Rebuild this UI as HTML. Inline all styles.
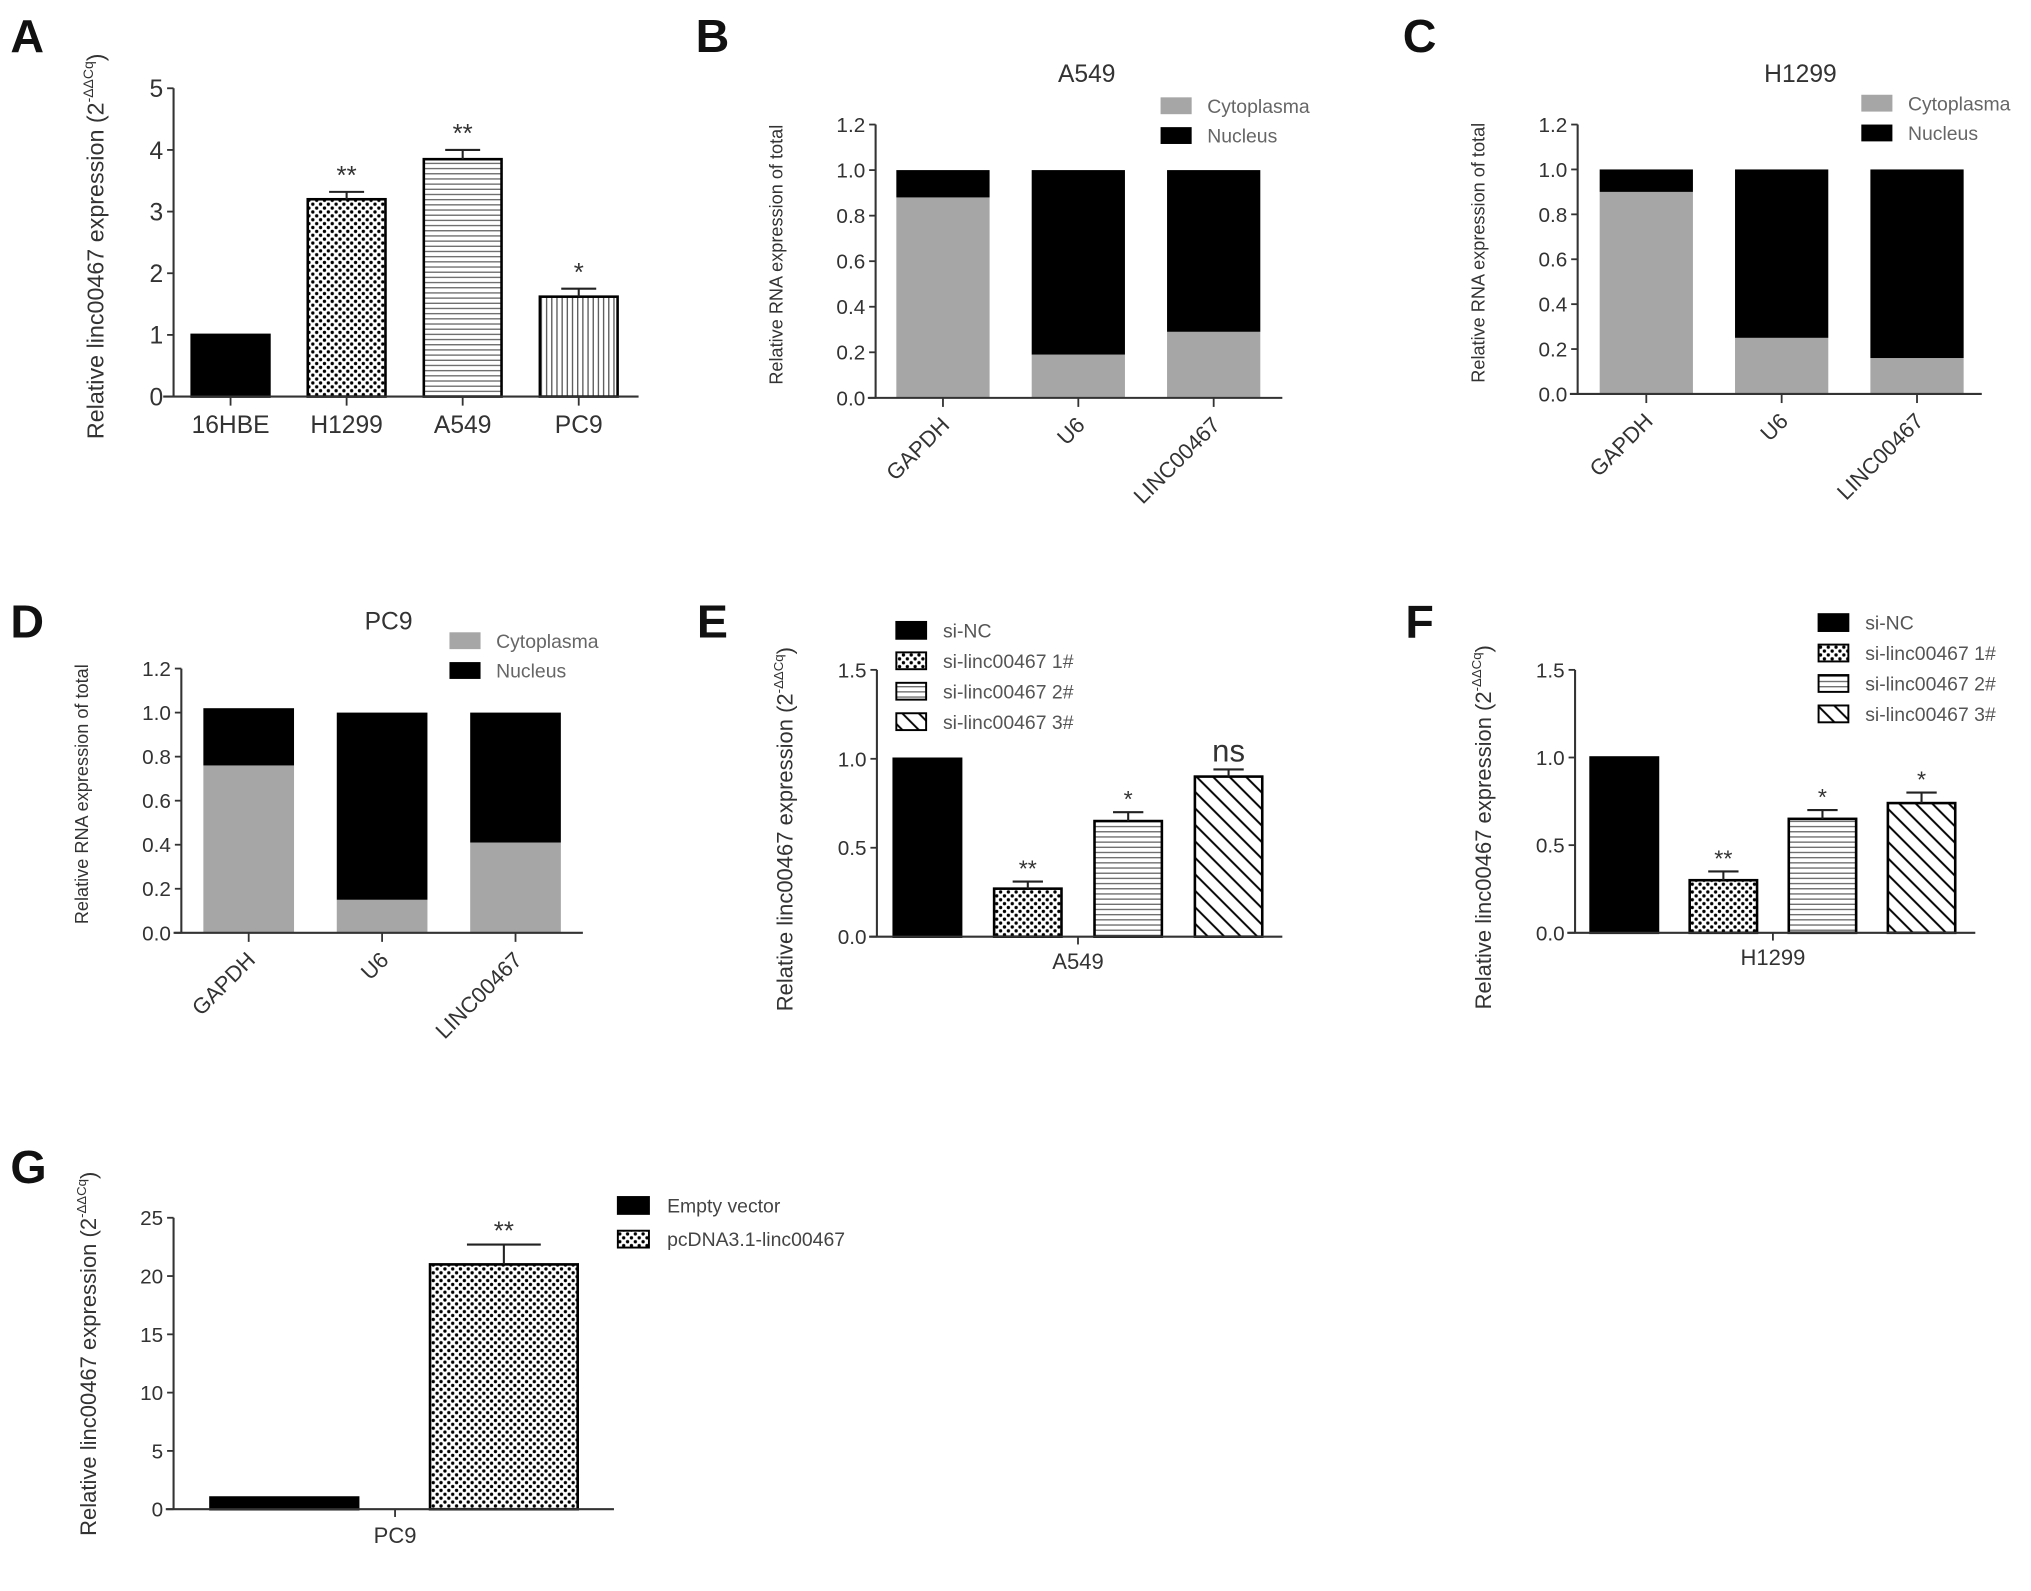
<!DOCTYPE html>
<html><head><meta charset="utf-8">
<style>
html,body{margin:0;padding:0;background:#fff;}
svg{display:block;font-family:"Liberation Sans",Arial,sans-serif;}
</style></head>
<body>
<svg id="fig" width="2031" height="1591" viewBox="0 0 1568 1228" xmlns="http://www.w3.org/2000/svg">
<defs>
<pattern id="pDots" width="6" height="6" patternUnits="userSpaceOnUse"><rect width="6" height="6" fill="#fff"/><circle cx="1.5" cy="1.5" r="1.3" fill="#000"/><circle cx="4.5" cy="4.5" r="1.3" fill="#000"/></pattern>
<pattern id="pH" width="6" height="4" patternUnits="userSpaceOnUse"><rect width="6" height="4" fill="#fff"/><rect y="1.5" width="6" height="1" fill="#666"/></pattern>
<pattern id="pV" width="4" height="6" patternUnits="userSpaceOnUse"><rect width="4" height="6" fill="#fff"/><rect x="1.5" width="1" height="6" fill="#555"/></pattern>
<pattern id="pD" width="9" height="9" patternUnits="userSpaceOnUse" patternTransform="rotate(-45)"><rect width="9" height="9" fill="#fff"/><rect x="3.5" width="1.5" height="9" fill="#000"/></pattern>
</defs>
<g id="root"></g>
</svg>
<script>
// Panel A
const aCats = ["16HBE","H1299","A549","PC9"];
const aVals = [1.0, 3.2, 3.85, 1.62];
const aErr = [0, 0.12, 0.15, 0.13];
const aSig = ["", "**", "**", "*"];
const aTicks = [0,1,2,3,4,5];
// Panels B, C, D (stacked)
const fracCats = ["GAPDH","U6","LINC00467"];
const bCyto = [0.88, 0.19, 0.29];
const bTotal = [1.0, 1.0, 1.0];
const cCyto = [0.90, 0.25, 0.16];
const cTotal = [1.0, 1.0, 1.0];
const dCyto = [0.76, 0.15, 0.41];
const dTotal = [1.02, 1.0, 1.0];
const fracTicks = ["0.0","0.2","0.4","0.6","0.8","1.0","1.2"];
// Panels E, F
const siGroups = ["si-NC","si-linc00467 1#","si-linc00467 2#","si-linc00467 3#"];
const eVals = [1.0, 0.27, 0.65, 0.90];
const eErr = [0, 0.04, 0.05, 0.04];
const eSig = ["", "**", "*", "ns"];
const fVals = [1.0, 0.30, 0.65, 0.74];
const fErr = [0, 0.05, 0.05, 0.06];
const fSig = ["", "**", "*", "*"];
const siTicks = ["0.0","0.5","1.0","1.5"];
// Panel G
const gGroups = ["Empty vector","pcDNA3.1-linc00467"];
const gVals = [1.0, 21.0];
const gErr = [0, 1.7];
const gSig = ["", "**"];
const gTicks = [0,5,10,15,20,25];

const NS="http://www.w3.org/2000/svg";
const root=document.getElementById('root');
function mk(tag,attrs,parent){const e=document.createElementNS(NS,tag);for(const k in attrs)e.setAttribute(k,attrs[k]);(parent||root).appendChild(e);return e;}
function txt(s,attrs,parent){const t=mk('text',attrs,parent);t.textContent=s;return t;}

function yLabel(g,x,y,size,plain){
  const t=mk('text',{x:0,y:0,'font-size':size,'text-anchor':'middle',fill:'#333',transform:`translate(${x},${y}) rotate(-90)`},g);
  
  
  if(plain){t.textContent=plain;return t;}
  const a=document.createElementNS(NS,'tspan');a.textContent='Relative linc00467 expression (2';t.appendChild(a);
  const b=document.createElementNS(NS,'tspan');b.textContent='-ΔΔCq';b.setAttribute('font-size',size*0.6);b.setAttribute('dy',-size*0.45);t.appendChild(b);
  const c=document.createElementNS(NS,'tspan');c.textContent=')';c.setAttribute('dy',size*0.45);t.appendChild(c);
  return t;
}
function panelLetter(s,x,y){const t=txt(s,{x:x,y:y,'font-size':36,'font-weight':'bold',fill:'#111'});
  
  }

function yAxis(g,ax,y0,yTop,ticks,max,fs){
  const sc=v=>y0-(v/max)*(y0-yTop);
  const l=mk('line',{x1:ax,y1:y0,x2:ax,y2:yTop,stroke:'#333','stroke-width':1.6},g);
  
  
  ticks.forEach(tv=>{const v=parseFloat(tv);const y=sc(v);
    mk('line',{x1:ax-5,y1:y,x2:ax,y2:y,stroke:'#333','stroke-width':1.4},g);
    const t=txt(String(tv),{x:ax-8,y:y+fs*0.36,'font-size':fs,'text-anchor':'end',fill:'#333'},g);
    
    
  });
  return sc;
}

function errBar(g,cx,w,yv,ye){
  mk('line',{x1:cx,y1:yv,x2:cx,y2:ye,stroke:'#222','stroke-width':1.6},g);
  mk('line',{x1:cx-w/2,y1:ye,x2:cx+w/2,y2:ye,stroke:'#222','stroke-width':1.6},g);
}

// ---------- Panel A ----------
(function(){
  const g=mk('g',{});
  
  
  panelLetter('A',8,40);
  const ax=134,y0=306,yTop=68,xEnd=493;
  const sc=yAxis(g,ax,y0,yTop,aTicks,5,19);
  yLabel(g,80,190,18);
  const fills=['#000','url(#pDots)','url(#pH)','url(#pV)'];
  const step=89.6,first=178,bw=60;
  aCats.forEach((c,i)=>{
    const cx=first+i*step;const yv=sc(aVals[i]);
    const r=mk('rect',{x:cx-bw/2,y:yv,width:bw,height:y0-yv,fill:fills[i],stroke:'#000','stroke-width':2},g);
    
    
    if(aErr[i]>0){const ye=sc(aVals[i]+aErr[i]);errBar(g,cx,bw*0.45,yv,ye);
      const s=txt(aSig[i],{x:cx,y:ye-6,'font-size':20,'text-anchor':'middle',fill:'#333'},g);
      
      }
    mk('line',{x1:cx,y1:y0,x2:cx,y2:y0+7,stroke:'#333','stroke-width':1.4},g);
    const t=txt(c,{x:cx,y:y0+28,'font-size':19,'text-anchor':'middle',fill:'#333'},g);
    
    
  });
  const xa=mk('line',{x1:ax-8,y1:y0,x2:xEnd,y2:y0,stroke:'#333','stroke-width':1.6},g);
  
  
})();

// ---------- Stacked panels ----------
function stacked(letter,lx,ly,title,cyto,total,o){
  const g=mk('g',{});
  
  
  panelLetter(letter,lx,ly);
  const sc=yAxis(g,o.ax,o.y0,o.yTop,fracTicks,1.2,16);
  yLabel(g,o.ax-72,(o.y0+o.yTop)/2-5,14,'Relative RNA expression of total');
  const tt=txt(title,{x:o.titleX,y:o.titleY,'font-size':19,'text-anchor':'middle',fill:'#333'},g);
  
  
  fracCats.forEach((c,i)=>{
    const cx=o.first+i*o.step;
    const yc=sc(cyto[i]),yt=sc(total[i]);
    const r1=mk('rect',{x:cx-o.bw/2,y:yc,width:o.bw,height:o.y0-yc,fill:'#a6a6a6'},g);
    
    
    const r2=mk('rect',{x:cx-o.bw/2,y:yt,width:o.bw,height:yc-yt,fill:'#000'},g);
    
    
    mk('line',{x1:cx,y1:o.y0,x2:cx,y2:o.y0+7,stroke:'#333','stroke-width':1.4},g);
    const t=txt(c,{x:0,y:0,'font-size':17,'text-anchor':'end',fill:'#333',transform:`translate(${cx+6},${o.y0+22}) rotate(-45)`},g);
    
    
  });
  const xa=mk('line',{x1:o.ax-6,y1:o.y0,x2:o.xEnd,y2:o.y0,stroke:'#333','stroke-width':1.6},g);
  
  
  [['Cytoplasma','#a6a6a6'],['Nucleus','#000']].forEach((L,i)=>{
    const y=o.legY+i*23;
    const s=mk('rect',{x:o.legX,y:y,width:24,height:13,fill:L[1]},g);
    
    
    const t=txt(L[0],{x:o.legX+36,y:y+12,'font-size':15,fill:'#666'},g);
    
    
  });
}
stacked('B',537,40,'A549',bCyto,bTotal,{ax:676,y0:307,yTop:96,xEnd:990,first:728,step:104.5,bw:72,titleX:839,titleY:63,legX:896,legY:75});
stacked('C',1083,40,'H1299',cCyto,cTotal,{ax:1218,y0:304,yTop:96,xEnd:1530,first:1271,step:104.5,bw:72,titleX:1390,titleY:63,legX:1437,legY:73});
stacked('D',8,492,'PC9',dCyto,dTotal,{ax:140,y0:720,yTop:516,xEnd:450,first:192,step:103,bw:70,titleX:300,titleY:486,legX:347,legY:488});

// ---------- Grouped si panels ----------
function siPanel(letter,lx,ly,label,vals,errs,sig,o){
  const g=mk('g',{});
  
  
  panelLetter(letter,lx,ly);
  const sc=yAxis(g,o.ax,o.y0,o.yTop,siTicks,1.5,16);
  yLabel(g,o.ax-65,(o.y0+o.yTop)/2+20,17);
  const fills=['#000','url(#pDots)','url(#pH)','url(#pD)'];
  vals.forEach((v,i)=>{
    const cx=o.first+i*o.step;const yv=sc(v);
    const r=mk('rect',{x:cx-o.bw/2,y:yv,width:o.bw,height:o.y0-yv,fill:fills[i],stroke:'#000','stroke-width':2},g);
    
    
    if(errs[i]>0){const ye=sc(v+errs[i]);errBar(g,cx,o.bw*0.45,yv,ye);
      const big=sig[i]==='ns';
      const s=txt(sig[i],{x:cx,y:ye-(big?6:4),'font-size':big?24:18,'text-anchor':'middle',fill:'#333'},g);
      
      }
  });
  const mid=o.first+1.5*o.step;
  mk('line',{x1:mid,y1:o.y0,x2:mid,y2:o.y0+6,stroke:'#333','stroke-width':1.4},g);
  const xl=txt(label,{x:mid,y:o.y0+25,'font-size':17,'text-anchor':'middle',fill:'#333'},g);
  
  
  const xa=mk('line',{x1:o.ax-6,y1:o.y0,x2:o.xEnd,y2:o.y0,stroke:'#333','stroke-width':1.6},g);
  
  
  siGroups.forEach((name,i)=>{
    const y=o.legY+i*23.5;
    const s=mk('rect',{x:o.legX,y:y,width:23,height:13,fill:fills[i],stroke:'#000','stroke-width':1.5},g);
    
    
    const t=txt(name,{x:o.legX+36,y:y+12,'font-size':15,fill:'#555'},g);
    
    
  });
}
siPanel('E',538,492,'A549',eVals,eErr,eSig,{ax:677,y0:723,yTop:517,xEnd:990,first:716,step:77.5,bw:52,legX:692,legY:480});
siPanel('F',1085,492,'H1299',fVals,fErr,fSig,{ax:1216,y0:720,yTop:517,xEnd:1525,first:1254,step:76.5,bw:52,legX:1404,legY:474});

// ---------- Panel G ----------
(function(){
  const g=mk('g',{});
  
  
  panelLetter('G',8,913);
  const ax=134,y0=1165,yTop=940,xEnd=474;
  const sc=yAxis(g,ax,y0,yTop,gTicks,25,16);
  yLabel(g,74,1045,17);
  const fills=['#000','url(#pDots)'];
  const centers=[219.5,389],bw=114;
  gVals.forEach((v,i)=>{
    const cx=centers[i];const yv=sc(v);
    const r=mk('rect',{x:cx-bw/2,y:yv,width:bw,height:y0-yv,fill:fills[i],stroke:'#000','stroke-width':2},g);
    
    
    if(gErr[i]>0){const ye=sc(v+gErr[i]);errBar(g,cx,bw*0.5,yv,ye);
      const s=txt(gSig[i],{x:cx,y:ye-4,'font-size':20,'text-anchor':'middle',fill:'#333'},g);
      
      }
  });
  mk('line',{x1:305,y1:y0,x2:305,y2:y0+6,stroke:'#333','stroke-width':1.4},g);
  const xl=txt('PC9',{x:305,y:y0+26,'font-size':17,'text-anchor':'middle',fill:'#333'},g);
  
  
  const xa=mk('line',{x1:ax-6,y1:y0,x2:xEnd,y2:y0,stroke:'#333','stroke-width':1.6},g);
  
  
  gGroups.forEach((name,i)=>{
    const y=924+i*26;
    const s=mk('rect',{x:477,y:y,width:24,height:13,fill:fills[i],stroke:'#000','stroke-width':1.5},g);
    
    
    const t=txt(name,{x:515,y:y+12,'font-size':15,fill:'#444'},g);
    
    
  });
})();
</script>
</body></html>
